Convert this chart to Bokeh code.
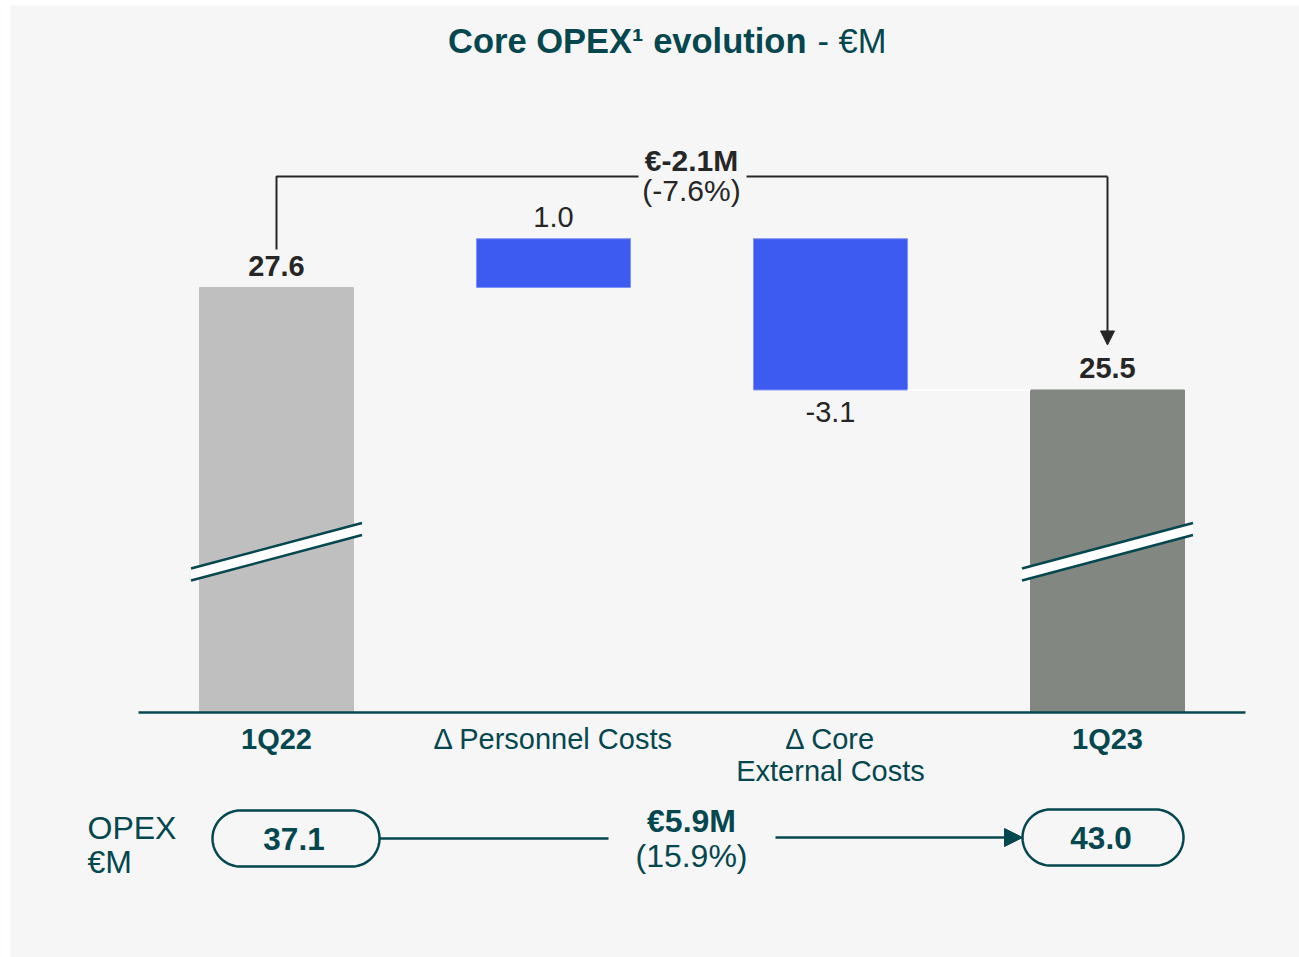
import numpy as np
from bokeh.plotting import figure
from bokeh.models import Range1d, Arrow, NormalHead
from bokeh.core.properties import value
from bokeh.embed import file_html
from bokeh.resources import INLINE

# ---------------- data ----------------
categories = ["1Q22", "Δ Personnel Costs", "Δ Core\nExternal Costs", "1Q23"]
start_value = 27.6
deltas = [1.0, -3.1]
end_value = 25.5
bracket_change = "€-2.1M"
bracket_pct = "(-7.6%)"
opex_values = [37.1, 43.0]
opex_change = "€5.9M"
opex_pct = "(15.9%)"
opex_label = ["OPEX", "€M"]
title_bold = "Core OPEX¹ evolution"
title_rest = "- €M"

# ---------------- style ----------------
BG = "#f6f6f6"
TEAL = "#05474f"
DARK = "#262626"
BLUE = "#3d5af1"
GREY_START = "#bfbfbf"
GREY_END = "#838782"
FONT = value("Liberation Sans")

W, H = 1299, 957
SX0, SY0 = 0, 0            # figure origin in the screenshot
CX0, DX = 276.0, 277.0     # screen x of first category and category spacing
PPU = 48.8
Y_TOP = 27.6 + (287 - SY0) / PPU
Y_BOT = Y_TOP - H / PPU
X_LEFT = (SX0 - CX0) / DX
X_RIGHT = X_LEFT + W / DX


def X(sx):
    return (sx - CX0) / DX


def Y(sy):
    return Y_TOP - (sy - SY0) / PPU


def SX(x):
    return CX0 + x * DX


def SY(v):
    return SY0 + (Y_TOP - v) * PPU


AXIS_SY = 712
BASE = Y(AXIS_SY)
BAR_W = 154 / DX

p = figure(width=W, height=H, x_range=Range1d(X_LEFT, X_RIGHT), y_range=Range1d(Y_BOT, Y_TOP),
           x_axis_type=None, y_axis_type=None, output_backend="svg", toolbar_location=None,
           min_border=0, outline_line_color=None, background_fill_color=BG, border_fill_color=BG)
p.grid.visible = False

# white page margin around the panel
p.quad(left=X(-5), right=X(10), bottom=Y(H + 5), top=Y(-5), fill_color="white", line_color=None)
p.quad(left=X(-5), right=X(W + 5), bottom=Y(5), top=Y(-5), fill_color="white", line_color=None)

# ---------------- waterfall geometry ----------------
n = len(categories)
xs = list(range(n))
bottoms, tops, colors = [BASE], [start_value], [GREY_START]
running = start_value
for d in deltas:
    bottoms.append(min(running, running + d))
    tops.append(max(running, running + d))
    colors.append(BLUE)
    running += d
bottoms.append(BASE)
tops.append(end_value)
colors.append(GREY_END)

p.vbar(x=xs, width=BAR_W, bottom=bottoms, top=tops, fill_color=colors,
       line_color=[c if c != BLUE else "#7f93f6" for c in colors], line_width=1)

# connector into the final total
p.segment(x0=n - 2 + BAR_W / 2, y0=running, x1=n - 1 - BAR_W / 2, y1=running,
          line_color="white", line_width=1.5)

# value labels
lab_x, lab_y, lab_txt, lab_off, lab_style = [], [], [], [], []
vals = [start_value] + deltas + [end_value]
for i, v in enumerate(vals):
    is_total = i in (0, n - 1)
    lab_x.append(i)
    if is_total or v >= 0:
        lab_y.append(tops[i]); lab_off.append(-22)
    else:
        lab_y.append(bottoms[i]); lab_off.append(22)
    lab_txt.append(f"{v:.1f}")
    lab_style.append("bold" if is_total else "normal")
for st in ("bold", "normal"):
    idx = [k for k in range(n) if lab_style[k] == st]
    p.text(x=[lab_x[k] for k in idx], y=[lab_y[k] for k in idx], text=[lab_txt[k] for k in idx],
           y_offset=[lab_off[k] for k in idx], text_align="center", text_baseline="middle",
           text_font=FONT, text_font_size="29px", text_font_style=st, text_color=DARK)

# break marks on total bars
for i in (0, n - 1):
    cx = SX(i)
    top_l, top_r, thick = 568.0, 522.5, 12.0
    px = [cx - 85.5, cx + 85.5, cx + 85.5, cx - 85.5]
    py = [top_l, top_r, top_r + thick, top_l + thick]
    p.patch([X(a) for a in px], [Y(b) for b in py], fill_color="white", line_color=None)
    p.segment(x0=[X(cx - 85.5)] * 2, y0=[Y(top_l), Y(top_l + thick)],
              x1=[X(cx + 85.5)] * 2, y1=[Y(top_r), Y(top_r + thick)],
              line_color=TEAL, line_width=2.5)

# axis line
p.segment(x0=X(138), y0=BASE, x1=X(1245), y1=BASE, line_color=TEAL, line_width=2.5)

# category labels
for i, cat in enumerate(categories):
    st = "bold" if i in (0, n - 1) else "normal"
    for k, line in enumerate(cat.split("\n")):
        p.text(x=[i], y=[Y(AXIS_SY + 26 + 32 * k)], text=[line], text_align="center",
               text_baseline="middle", text_font=FONT, text_font_size="29px",
               text_font_style=st, text_color=TEAL)

# title
p.text(x=[X(806)], y=[Y(40)], text=[title_bold], text_align="right", text_baseline="middle",
       text_font=FONT, text_font_size="34.5px", text_font_style="bold", text_color=TEAL)
p.text(x=[X(817)], y=[Y(40)], text=[title_rest], text_align="left", text_baseline="middle",
       text_font=FONT, text_font_size="34.5px", text_font_style="normal", text_color=TEAL)

# bracket -2.1M
y_br = Y(176)
p.line([0, 0, X(638)], [Y(SY(tops[0]) - 38), y_br, y_br], line_color=DARK, line_width=2)
p.line([X(746), n - 1], [y_br, y_br], line_color=DARK, line_width=2)
p.add_layout(Arrow(end=NormalHead(size=14, fill_color=DARK, line_color=DARK),
                   x_start=n - 1, y_start=y_br, x_end=n - 1, y_end=Y(SY(tops[-1]) - 45),
                   line_color=DARK, line_width=2))
p.text(x=[X(691)], y=[Y(160)], text=[bracket_change], text_align="center", text_baseline="middle",
       text_font=FONT, text_font_size="30px", text_font_style="bold", text_color=DARK)
p.text(x=[X(691)], y=[Y(190)], text=[bracket_pct], text_align="center", text_baseline="middle",
       text_font=FONT, text_font_size="30px", text_font_style="normal", text_color=DARK)

# OPEX row
for k, t in enumerate(opex_label):
    p.text(x=[X(87)], y=[Y(827 + 34 * k)], text=[t], text_align="left", text_baseline="middle",
           text_font=FONT, text_font_size="32px", text_color=TEAL)


def pill(cx, cy, w, h):
    rr = h / 2
    t1 = np.linspace(-np.pi / 2, np.pi / 2, 40)
    t2 = np.linspace(np.pi / 2, 3 * np.pi / 2, 40)
    px = np.concatenate([cx + w / 2 - rr + rr * np.cos(t1), cx - w / 2 + rr + rr * np.cos(t2)])
    py = np.concatenate([cy + rr * np.sin(t1), cy + rr * np.sin(t2)])
    px = np.append(px, px[0]); py = np.append(py, py[0])
    return [X(a) for a in px], [Y(b) for b in py]


pills = [(295.5, 838, 167, 56), (1102.5, 837, 161, 56)]
for (cx, cy, w, h), v in zip(pills, opex_values):
    pxs, pys = pill(cx, cy, w, h)
    p.line(pxs, pys, line_color=TEAL, line_width=2.5)
    p.text(x=[X(cx - 2)], y=[Y(cy)], text=[f"{v:.1f}"], text_align="center", text_baseline="middle",
           text_font=FONT, text_font_size="31.5px", text_font_style="bold", text_color=TEAL)

p.segment(x0=X(379), y0=Y(838), x1=X(608), y1=Y(838), line_color=TEAL, line_width=2.5)
p.add_layout(Arrow(end=NormalHead(size=18, fill_color=TEAL, line_color=TEAL),
                   x_start=X(775), y_start=Y(837), x_end=X(1022), y_end=Y(837),
                   line_color=TEAL, line_width=2.5))
p.text(x=[X(691)], y=[Y(820)], text=[opex_change], text_align="center", text_baseline="middle",
       text_font=FONT, text_font_size="32px", text_font_style="bold", text_color=TEAL)
p.text(x=[X(691)], y=[Y(855)], text=[opex_pct], text_align="center", text_baseline="middle",
       text_font=FONT, text_font_size="32px", text_font_style="normal", text_color=TEAL)

open("out.html", "w").write(file_html(p, INLINE))
